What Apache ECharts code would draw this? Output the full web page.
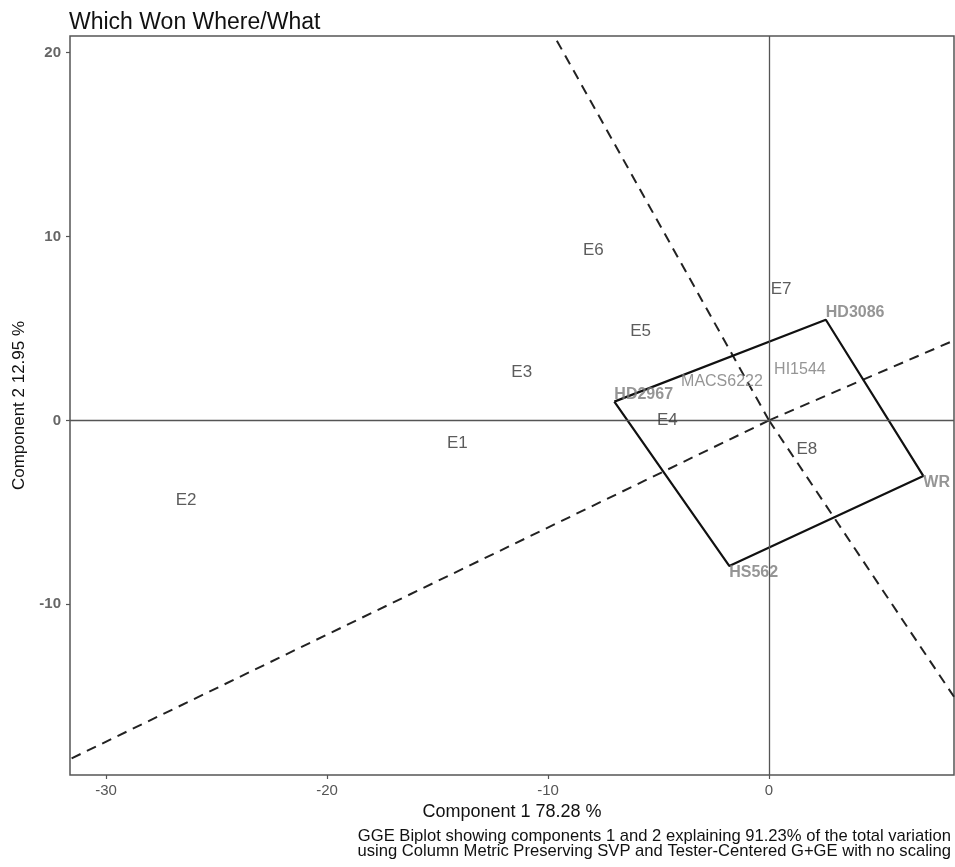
<!DOCTYPE html>
<html>
<head>
<meta charset="utf-8">
<script src="https://cdn.jsdelivr.net/npm/echarts@6/dist/echarts.min.js"></script>
<style>
html,body{margin:0;padding:0;background:#fff;}
#chart{width:955px;height:867px;}
</style>
</head>
<body>
<div id="chart"></div>
<script>
// ---- data ----
const X_MIN = -31.63, X_MAX = 8.37;
const Y_MIN = -19.28, Y_MAX = 20.9;
const xTicks = [-30, -20, -10, 0];
const yTicks = [-10, 0, 10, 20];

const envNames = ['E1','E2','E3','E4','E5','E6','E7','E8'];
const envX = [-14.10, -26.38, -11.19, -4.60, -5.81, -7.95, 0.55, 1.71];
const envY = [-1.22, -4.32, 2.64, 0.03, 4.87, 9.23, 7.15, -1.55];

const genNames = ['HD3086','WR','HS562','HD2967','MACS6222','HI1544'];
const genX = [2.57, 6.98, -1.80, -7.00, -3.98, 0.23];
const genY = [5.47, -3.02, -7.91, 1.02, 1.71, 2.37];
const genBold = [true, true, true, true, false, false];

const hullOrder = ['HD2967','HD3086','WR','HS562'];

const titleText = 'Which Won Where/What';
const xTitle = 'Component 1 78.28 %';
const yTitle = 'Component 2 12.95 %';
const caption1 = 'GGE Biplot showing components 1 and 2 explaining 91.23% of the total variation';
const caption2 = 'using Column Metric Preserving SVP and Tester-Centered G+GE with no scaling';

// ---- derived structures ----
const gpt = n => { const i = genNames.indexOf(n); return [genX[i], genY[i]]; };
const hull = hullOrder.map(gpt);
hull.push(hull[0]);

function ray(a, b) {
  const dx = b[0]-a[0], dy = b[1]-a[1];
  const t = -(a[0]*dx + a[1]*dy)/(dx*dx + dy*dy);
  const fx = a[0]+t*dx, fy = a[1]+t*dy;
  let s = Infinity;
  if (fx > 0) s = Math.min(s, X_MAX/fx); else if (fx < 0) s = Math.min(s, X_MIN/fx);
  if (fy > 0) s = Math.min(s, Y_MAX/fy); else if (fy < 0) s = Math.min(s, Y_MIN/fy);
  return [[0,0],[fx*s, fy*s]];
}
const raySeries = [];
for (let i = 0; i < hullOrder.length; i++) {
  raySeries.push({
    type: 'line', data: ray(hull[i], hull[i+1]), symbol: 'none', silent: true,
    lineStyle: {color: '#222', width: 2, type: [10, 7]}, z: 3
  });
}

const envData = envNames.map((n,i)=>({name:n, value:[envX[i], envY[i]]}));
const genData = genNames.map((n,i)=>({
  name:n, value:[genX[i], genY[i]],
  label:{
    offset:[0, genY[i] >= 0 ? -7 : 7],
    fontWeight: genBold[i] ? 'bold' : 'normal'
  }
}));

const chart = echarts.init(document.getElementById('chart'), null, {renderer:'canvas'});
chart.setOption({
  animation: false,
  backgroundColor: '#fff',
  title: {
    text: titleText, left: 64, top: 6,
    textStyle: {fontFamily: 'Liberation Sans', fontSize: 23, fontWeight: 'normal', color: '#111'}
  },
  grid: {left: 70, right: 1, top: 36, bottom: 92, show: true, borderColor: '#555', borderWidth: 1.5, containLabel: false},
  xAxis: {
    type: 'value', min: X_MIN, max: X_MAX,
    name: xTitle, nameLocation: 'middle', nameGap: 23,
    nameTextStyle: {fontFamily: 'Liberation Sans', fontSize: 18, color: '#111'},
    axisLine: {show: false, onZero: false},
    axisTick: {show: true, length: 4, lineStyle: {color: '#555', width: 1.2}, customValues: xTicks},
    axisLabel: {customValues: xTicks, margin: 8, fontFamily: 'Liberation Sans', fontSize: 15, color: '#555'},
    splitLine: {show: false}
  },
  yAxis: {
    type: 'value', min: Y_MIN, max: Y_MAX,
    name: yTitle, nameLocation: 'middle', nameGap: 42, nameRotate: 90,
    nameTextStyle: {fontFamily: 'Liberation Sans', fontSize: 17, color: '#111'},
    axisLine: {show: false, onZero: false},
    axisTick: {show: true, length: 4, lineStyle: {color: '#555', width: 1.2}, customValues: yTicks},
    axisLabel: {customValues: yTicks, margin: 9, fontFamily: 'Liberation Sans', fontSize: 15, fontWeight: 'bold', color: '#666'},
    splitLine: {show: false}
  },
  series: [
    {
      type: 'line', data: [], silent: true, z: 2,
      markLine: {
        silent: true, symbol: 'none', label: {show: false},
        lineStyle: {color: '#555', width: 1.3, type: 'solid'},
        data: [{xAxis: 0}, {yAxis: 0}]
      }
    },
    ...raySeries,
    {
      type: 'line', data: hull, symbol: 'none', silent: true, z: 4,
      lineStyle: {color: '#111', width: 2.2}
    },
    {
      type: 'scatter', data: envData, symbolSize: 0, silent: true, z: 5,
      label: {show: true, position: 'inside', formatter: '{b}', fontFamily: 'Liberation Sans', fontSize: 17, color: '#333'}
    },
    {
      type: 'scatter', data: genData, symbolSize: 0, silent: true, z: 5,
      label: {show: true, position: 'right', distance: 0, formatter: '{b}', fontFamily: 'Liberation Sans', fontSize: 16, color: '#7a7a7a'}
    }
  ],
  graphic: [
    {
      type: 'text', right: 4, top: 828,
      style: {text: caption1 + '\n' + caption2, textAlign: 'right', font: '16.6px "Liberation Sans"', lineHeight: 15, fill: '#111'}
    }
  ]
});
</script>
</body>
</html>
